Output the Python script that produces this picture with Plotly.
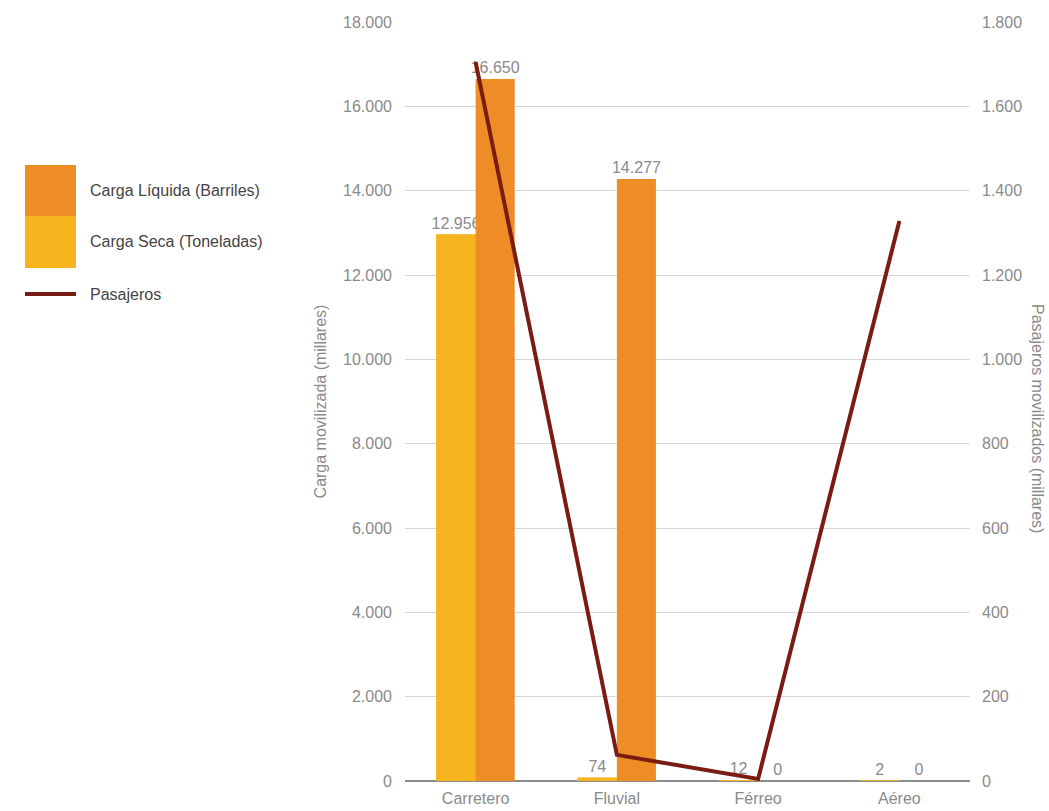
import plotly.graph_objects as go

# Modos de transporte y valores (millares)
modos = ["Carretero", "Fluvial", "Férreo", "Aéreo"]
carga_seca = [12956, 74, 12, 2]          # toneladas
carga_liquida = [16650, 14277, 0, 0]     # barriles
pasajeros = [1705, 62, 5, 1328]          # eje derecho

COLOR_SECA = "#f6b41f"
COLOR_LIQ = "#ee8d25"
COLOR_PAS = "#7a1b14"
GRIS = "#8a8a8a"
FUENTE = "Liberation Sans, Arial, sans-serif"
TAM = 16

W, H = 1049, 811
ML, MR, MT, MB = 405, 79, 22, 30
PW, PH = W - ML - MR, H - MT - MB


def px_x(x):
    return (x - ML) / PW


def px_y(y):
    return 1 - (y - MT) / PH


fig = go.Figure()

fig.add_trace(go.Bar(
    x=modos, y=carga_seca, name="Carga Seca (Toneladas)",
    marker=dict(color=COLOR_SECA, line=dict(color=COLOR_SECA, width=1)),
    texttemplate="%{y:,}", textposition="outside", constraintext="none",
    textfont=dict(color=GRIS, size=TAM, family=FUENTE),
    cliponaxis=False, showlegend=False,
))
fig.add_trace(go.Bar(
    x=modos, y=carga_liquida, name="Carga Líquida (Barriles)",
    marker=dict(color=COLOR_LIQ, line_width=0),
    texttemplate="%{y:,}", textposition="outside", constraintext="none",
    textfont=dict(color=GRIS, size=TAM, family=FUENTE),
    cliponaxis=False, showlegend=False,
))
fig.add_trace(go.Scatter(
    x=modos, y=pasajeros, name="Pasajeros", yaxis="y2",
    mode="lines", line=dict(color=COLOR_PAS, width=4),
    cliponaxis=False, showlegend=False,
))

# Leyenda dibujada a la izquierda del gráfico
shapes = [
    dict(type="rect", xref="paper", yref="paper",
         x0=px_x(25), x1=px_x(76), y0=px_y(216), y1=px_y(165),
         fillcolor=COLOR_LIQ, line_width=0),
    dict(type="rect", xref="paper", yref="paper",
         x0=px_x(25), x1=px_x(76), y0=px_y(268), y1=px_y(216),
         fillcolor=COLOR_SECA, line_width=0),
    dict(type="line", xref="paper", yref="paper",
         x0=px_x(25), x1=px_x(76), y0=px_y(294), y1=px_y(294),
         line=dict(color=COLOR_PAS, width=4)),
]
annotations = []
for texto, yy in [("Carga Líquida (Barriles)", 190),
                  ("Carga Seca (Toneladas)", 242),
                  ("Pasajeros", 294)]:
    annotations.append(dict(
        text=texto, xref="paper", yref="paper", x=px_x(88), y=px_y(yy),
        xanchor="left", yanchor="middle", showarrow=False,
        font=dict(color="#444444", size=TAM, family=FUENTE),
    ))

# Título del eje derecho, leído de arriba hacia abajo
annotations.append(dict(
    text="Pasajeros movilizados (millares)", xref="paper", yref="paper",
    x=px_x(1038), y=px_y(418), xanchor="center", yanchor="middle",
    textangle=90, showarrow=False,
    font=dict(color=GRIS, size=TAM, family=FUENTE),
))

fig.update_layout(
    width=W, height=H,
    margin=dict(l=ML, r=MR, t=MT, b=MB, autoexpand=False),
    paper_bgcolor="white", plot_bgcolor="white",
    separators=",.",
    barmode="group", bargap=0.447, bargroupgap=0,
    font=dict(family=FUENTE, color=GRIS, size=TAM),
    shapes=shapes, annotations=annotations,
    xaxis=dict(showgrid=False, ticks="", showline=False, automargin=False,
               ticklabelstandoff=6,
               tickfont=dict(size=TAM, color=GRIS)),
    yaxis=dict(
        range=[0, 18000], dtick=2000, tickformat=",", automargin=False,
        showgrid=True, gridcolor="#d6d6d6", gridwidth=1,
        zeroline=True, zerolinecolor="#8c8c8c", zerolinewidth=2,
        showline=False, ticks="", ticklabelstandoff=12,
        tickfont=dict(size=TAM, color=GRIS),
        title=dict(text="Carga movilizada (millares)", standoff=12,
                   font=dict(size=TAM, color=GRIS)),
    ),
    yaxis2=dict(
        range=[0, 1800], dtick=200, tickformat=",", automargin=False,
        overlaying="y", side="right", showgrid=False, zeroline=False,
        showline=False, ticks="", ticklabelstandoff=11,
        tickfont=dict(size=TAM, color=GRIS),
    ),
)

fig.write_html("out.html")
